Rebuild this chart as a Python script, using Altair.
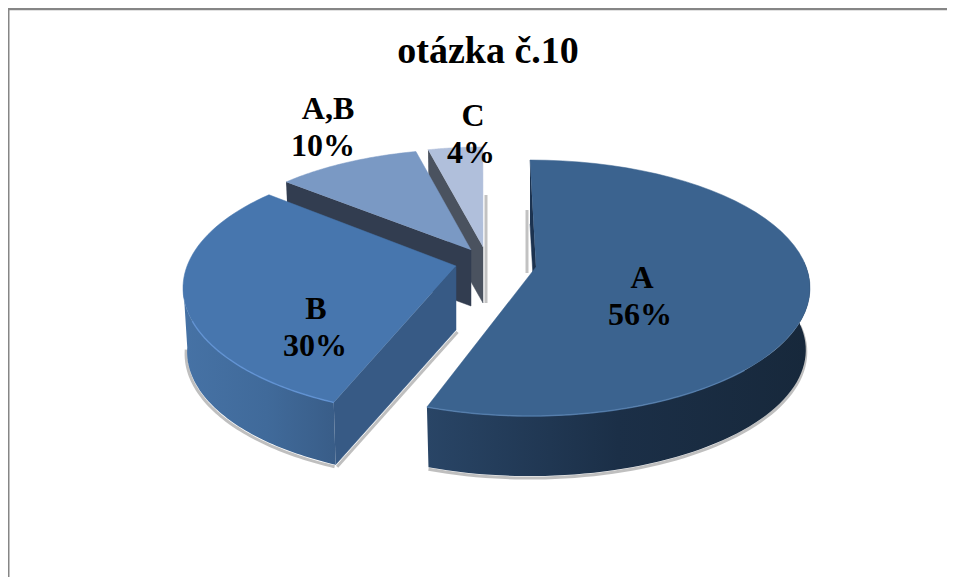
import math
import altair as alt
import pandas as pd

CATEGORIES = ["A", "B", "A,B", "C"]
PERCENTS = [56, 30, 10, 4]
TITLE = "otázka č.10"

# layout of the exploded slices (screen space of the plot)
CENTRES = [(530, 288), (456, 288), (471, 262), (483, 259)]
RADII = [(280, 128), (273, 128), (262, 113), (250, 112)]
APEX = [(536, 267), (456, 266), (471, 250), (483, 247)]
ROTATE = [0, 5, 5.5, 1.7]
STRETCH = [1, 1.02, 0.91, 0.88]
DEPTH = [62, 64, 56, 56]
TAPER = 0.985

TOP = ["#3b638f", "#4776ae", "#7a99c4", "#b0bfdb"]
CUT = ["#1c3350", "#375a85", "#323d50", "#4a525f"]

X = alt.X("x:Q", scale=alt.Scale(domain=[8, 947]), axis=None)
Y = alt.Y("y:Q", scale=alt.Scale(domain=[577, 8]), axis=None)

angles = []
acc = 0
for p in PERCENTS:
    angles.append((acc * 3.6, p * 3.6))
    acc += p


def pt(i, t, lower=False):
    cx, cy = CENTRES[i]
    rx, ry = RADII[i]
    k = TAPER if lower else 1
    r = math.radians(t)
    return (cx + k * rx * math.sin(r), cy + (DEPTH[i] if lower else 0) - k * ry * math.cos(r))


def arc(i, a, b, lower=False, n=60):
    return [pt(i, a + (b - a) * j / n, lower) for j in range(n + 1)]


def span(i):
    s, w = angles[i]
    s = s + ROTATE[i]
    return s, s + w * STRETCH[i]


def frame(points):
    return pd.DataFrame([{"x": x, "y": y, "i": j} for j, (x, y) in enumerate(points)])


def face(points, fill):
    props = {"fill": fill, "clip": False}
    if isinstance(fill, str):
        props.update(stroke=fill, strokeWidth=0.5)
    else:
        props.update(strokeOpacity=0)
    return alt.Chart(frame(points)).mark_line(**props).encode(x=X, y=Y, order=alt.Order("i:Q"))


def stroke(points, color, width, opacity=1):
    return (
        alt.Chart(frame(points))
        .mark_line(stroke=color, strokeWidth=width, opacity=opacity)
        .encode(x=X, y=Y, order=alt.Order("i:Q"))
    )


def grad(stops):
    return alt.LinearGradient(
        gradient="linear",
        x1=0, x2=1, y1=0, y2=0,
        stops=[alt.GradientStop(color=c, offset=o) for o, c in stops],
    )


def cut_face(i, t):
    a = pt(i, t)
    b = pt(i, t, True)
    ax, ay = APEX[i]
    return [a, (ax, ay), (ax, ay + DEPTH[i]), b]


def sector(i):
    s, e = span(i)
    return arc(i, s, e) + [APEX[i]]


layers = []

# frame: left and top edges only
layers.append(stroke([(8, 8), (8, 577)], "#868686", 3))
layers.append(stroke([(8, 9), (947, 9)], "#868686", 2.5))

# slice C
s, e = span(3)
layers.append(stroke([(486, 195), (486, 303)], "#9a9a9a", 3, 0.6))
layers.append(face(cut_face(3, s), CUT[3]))
layers.append(face(sector(3), TOP[3]))

# slice A,B
s, e = span(2)
layers.append(face(cut_face(2, s), CUT[2]))
layers.append(face(sector(2), TOP[2]))

# slice B
s, e = span(1)
low = arc(1, s, 272, True)
cut = cut_face(1, s)
layers.append(stroke([(x - 1, y + 2) for x, y in low], "#8a8a8a", 3, 0.55))
layers.append(stroke([(x + 1.5, y + 2) for x, y in [cut[3], cut[2]]], "#8a8a8a", 3, 0.55))
layers.append(face(arc(1, s, 272) + arc(1, 272, s, True), grad([(0, "#4672a5"), (0.55, "#406a9a"), (1, "#395d88")])))
layers.append(face(cut, CUT[1]))
layers.append(face(sector(1), TOP[1]))
layers.append(stroke(arc(1, s, 255), "#6496d8", 1.5, 0.8))

# slice A
s, e = span(0)
low = arc(0, 78, e, True)
layers.append(stroke([(x, y + 2) for x, y in low], "#8a8a8a", 3, 0.55))
layers.append(stroke([(527, 210), (527, 273)], "#9a9a9a", 3, 0.6))
layers.append(face(cut_face(0, s), CUT[0]))
layers.append(face(arc(0, 78, e) + arc(0, e, 78, True), grad([(0, "#294566"), (0.5, "#1b2f47"), (1, "#17283b")])))
layers.append(face(sector(0), TOP[0]))
layers.append(stroke(arc(0, 130, e), "#5a85b5", 1.5, 0.7))

# labels (y is the text baseline)
label_rows = [
    (TITLE, 488, 63, 38),
    (CATEGORIES[0], 642, 288, 32),
    (f"{PERCENTS[0]}%", 640, 325, 32),
    (CATEGORIES[1], 316, 319, 32),
    (f"{PERCENTS[1]}%", 315, 356, 32),
    (CATEGORIES[2], 328, 119, 32),
    (f"{PERCENTS[2]}%", 323, 156, 32),
    (CATEGORIES[3], 473, 126, 32),
    (f"{PERCENTS[3]}%", 471, 163, 32),
]
labels = pd.DataFrame(label_rows, columns=["t", "x", "y", "s"])
layers.append(
    alt.Chart(labels)
    .mark_text(font="Liberation Serif", fontWeight="bold", color="#000000", baseline="alphabetic", align="center")
    .encode(x=X, y=Y, text="t:N", size=alt.Size("s:Q", scale=None, legend=None))
)

chart = (
    alt.layer(*layers)
    .properties(width=939, height=569, padding=0, autosize=alt.AutoSizeParams(type="none"), background="#ffffff")
    .configure_view(stroke=None)
)
chart.save("out.html", embed_options={"renderer": "svg", "actions": False})
